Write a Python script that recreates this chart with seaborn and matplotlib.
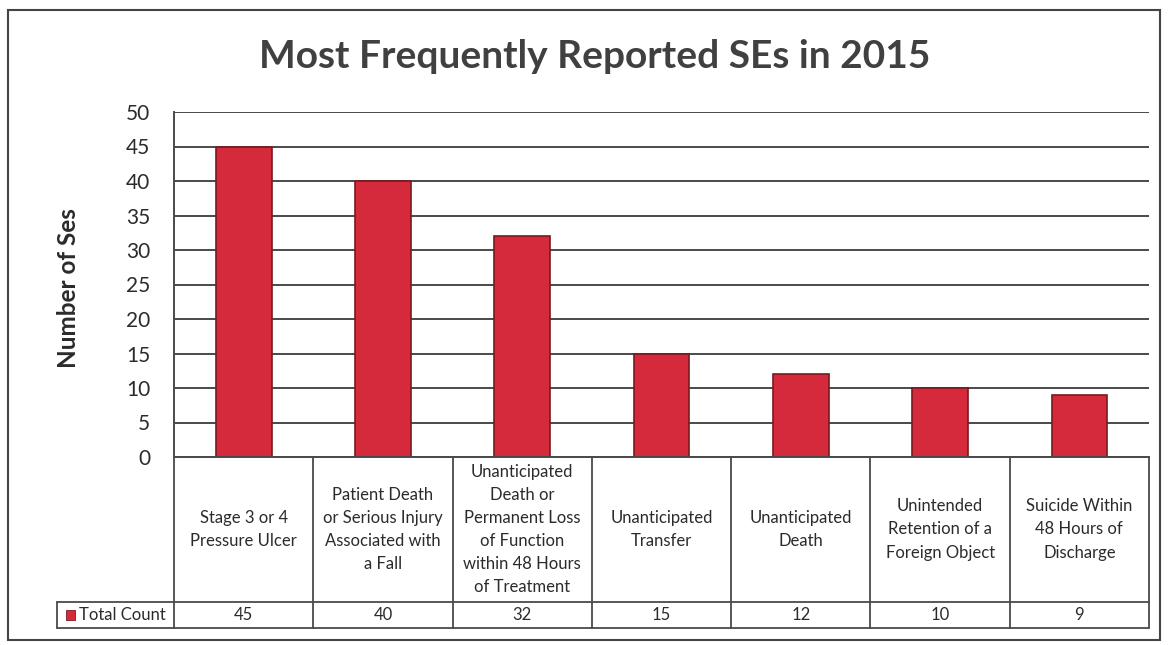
import matplotlib
matplotlib.use("Agg")
import matplotlib.pyplot as plt
import matplotlib.transforms as mtransforms
from matplotlib.patches import Rectangle
import seaborn as sns
import pandas as pd

categories = [
    "Stage 3 or 4\nPressure Ulcer",
    "Patient Death\nor Serious Injury\nAssociated with\na Fall",
    "Unanticipated\nDeath or\nPermanent Loss\nof Function\nwithin 48 Hours\nof Treatment",
    "Unanticipated\nTransfer",
    "Unanticipated\nDeath",
    "Unintended\nRetention of a\nForeign Object",
    "Suicide Within\n48 Hours of\nDischarge",
]
counts = [45, 40, 32, 15, 12, 10, 9]
series_name = "Total Count"
title = "Most Frequently Reported SEs in 2015"
ylabel = "Number of Ses"
yticks = [0, 5, 10, 15, 20, 25, 30, 35, 40, 45, 50]

sns.set_style("white")
plt.rcParams["font.family"] = ["Lato", "DejaVu Sans"]

BAR = "#d42a3b"
EDGE = "#7a1a1f"
GRID = "#4a4a4a"
TXT = "#2b2b2b"

fig = plt.figure(figsize=(11.69, 6.45), dpi=100)
ax = fig.add_axes([174/1169, 1-457/645, 975/1169, 345/645])

df = pd.DataFrame({"cat": categories, "val": counts})
sns.barplot(data=df, x="cat", y="val", ax=ax, color=BAR, width=0.4,
            edgecolor=EDGE, linewidth=1.2, saturation=1)

ax.set_ylim(0, 50)
ax.set_xlim(-0.5, len(categories) - 0.5)
ax.set_yticks(yticks)
ax.set_yticklabels([str(t) for t in yticks], fontsize=15, color=TXT)
ax.tick_params(axis="y", length=0, pad=17)
ax.set_xticks([])
ax.set_xlabel("")
ax.set_ylabel("")
ax.yaxis.grid(True, color=GRID, linewidth=1.4)
ax.set_axisbelow(True)
for s in ["top", "right"]:
    ax.spines[s].set_visible(False)
for s in ["left", "bottom"]:
    ax.spines[s].set_color(GRID)
    ax.spines[s].set_linewidth(1.4)

# data table below the axes
blend = mtransforms.blended_transform_factory(ax.transData, ax.transAxes)
y_row = (457 - 602) / 345
y_bot = (457 - 628) / 345
x_left = (57 - 174) / 975
n = len(categories)
for i in range(n + 1):
    ax.plot([i - 0.5, i - 0.5], [0, y_bot], transform=blend, color=GRID,
            lw=1.3, clip_on=False)
for yy in (y_row, y_bot):
    ax.plot([x_left, 1], [yy, yy], transform=ax.transAxes, color=GRID,
            lw=1.3, clip_on=False)
ax.plot([x_left, x_left], [y_row, y_bot], transform=ax.transAxes, color=GRID,
        lw=1.3, clip_on=False)

for i, (c, v) in enumerate(zip(categories, counts)):
    ax.text(i, y_row / 2, c, transform=blend, ha="center", va="center",
            fontsize=12, color=TXT, linespacing=1.55, clip_on=False)
    ax.text(i, (y_row + y_bot) / 2, str(v), transform=blend, ha="center",
            va="center", fontsize=12, color=TXT, clip_on=False)

ax.add_patch(Rectangle((x_left + 0.009, (y_row + y_bot) / 2 - 0.014), 0.009, 0.028,
                       transform=ax.transAxes, facecolor=BAR, edgecolor=EDGE,
                       lw=0.6, clip_on=False))
ax.text(x_left + 0.023, (y_row + y_bot) / 2, series_name, transform=ax.transAxes,
        ha="left", va="center", fontsize=12, color=TXT, clip_on=False)

fig.text(595/1169, 1 - 57/645, title, ha="center", va="center",
         fontsize=28, fontweight="bold", color="#404040")
fig.text(68/1169, 1 - 288/645, ylabel, ha="center", va="center",
         rotation=90, fontsize=17.5, fontweight="bold", color=TXT)

fig.add_artist(Rectangle((8/1169, 5/645), 1152/1169, 630/645,
                         transform=fig.transFigure, fill=False,
                         edgecolor="#444444", lw=1.5))

fig.savefig("out.png", dpi=100, facecolor="white")
